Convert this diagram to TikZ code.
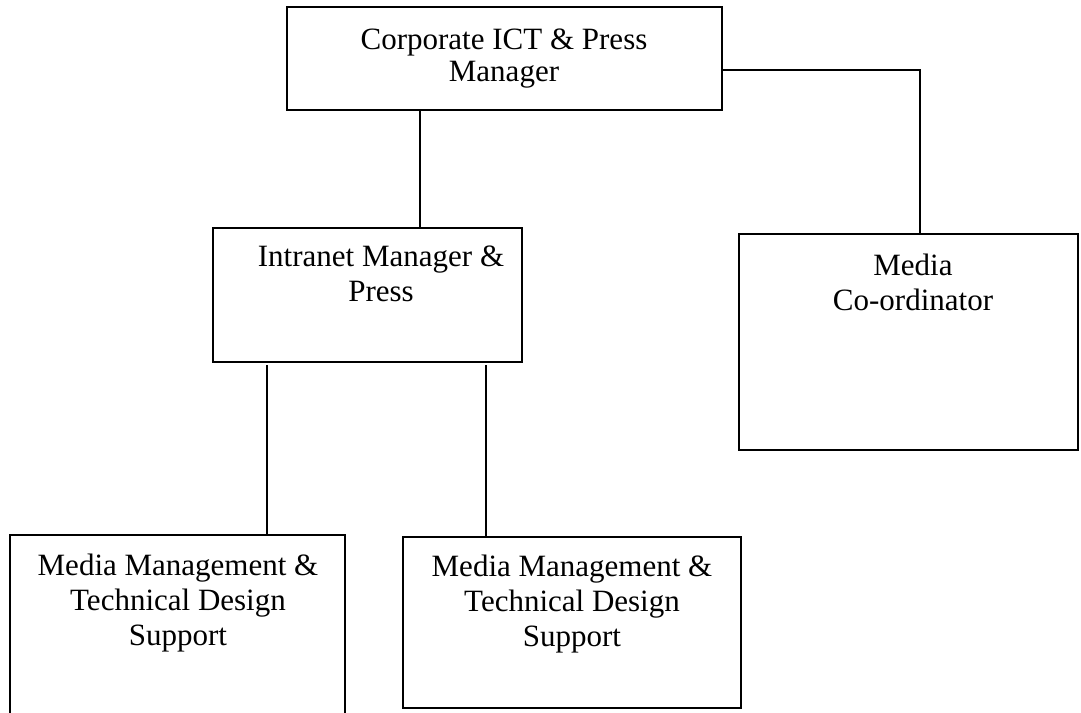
\documentclass[tikz,border=0pt]{standalone}
\usepackage{fontspec}
\setmainfont{Liberation Serif}
\begin{document}
\begin{tikzpicture}[x=1pt,y=-1pt,
  box/.style={draw=black, line width=1.5pt, inner sep=0pt, outer sep=0pt, rectangle},
  lbl/.style={anchor=north, inner sep=0pt, align=center, font=\fontsize{31}{35}\selectfont},
  link/.style={draw=black, line width=1.5pt}]
\useasboundingbox[fill=white] (0,0) rectangle (1081,712);
% boxes
\node[box, minimum width=435pt, minimum height=103pt] (top) at (504.5,58.5) {};
\node[box, minimum width=309pt, minimum height=134pt] (intra) at (367.5,295) {};
\node[box, minimum width=339pt, minimum height=216pt] (media) at (908.5,342) {};
\node[box, minimum width=335pt, minimum height=200pt] (bl) at (177.5,635) {};
\node[box, minimum width=338pt, minimum height=171pt] (bm) at (572,622.5) {};
% texts
\node[lbl, font=\fontsize{31}{32}\selectfont] (topT) at (504,29) {Corporate ICT \& Press\\Manager};
\node[lbl] (intraT) at (381,246) {Intranet Manager \&\\Press};
\node[lbl] (mediaT) at (913,254) {Media\\Co-ordinator};
\node[lbl] (blT) at (178,554) {Media Management \&\\Technical Design\\Support};
\node[lbl] (bmT) at (572,555) {Media Management \&\\Technical Design\\Support};
% connectors
\coordinate (c1) at (420,0);
\coordinate (k) at (920,70);
\coordinate (c2) at (267,0);
\coordinate (c3) at (486,0);
\draw[link] (top.south -| c1) -- (intra.north -| c1);
\draw[link] (top.east |- k) -| (media.north -| k);
\draw[link] ([yshift=-3pt]intra.south -| c2) -- (bl.north -| c2);
\draw[link] ([yshift=-3pt]intra.south -| c3) -- (bm.north -| c3);
\end{tikzpicture}
\end{document}
